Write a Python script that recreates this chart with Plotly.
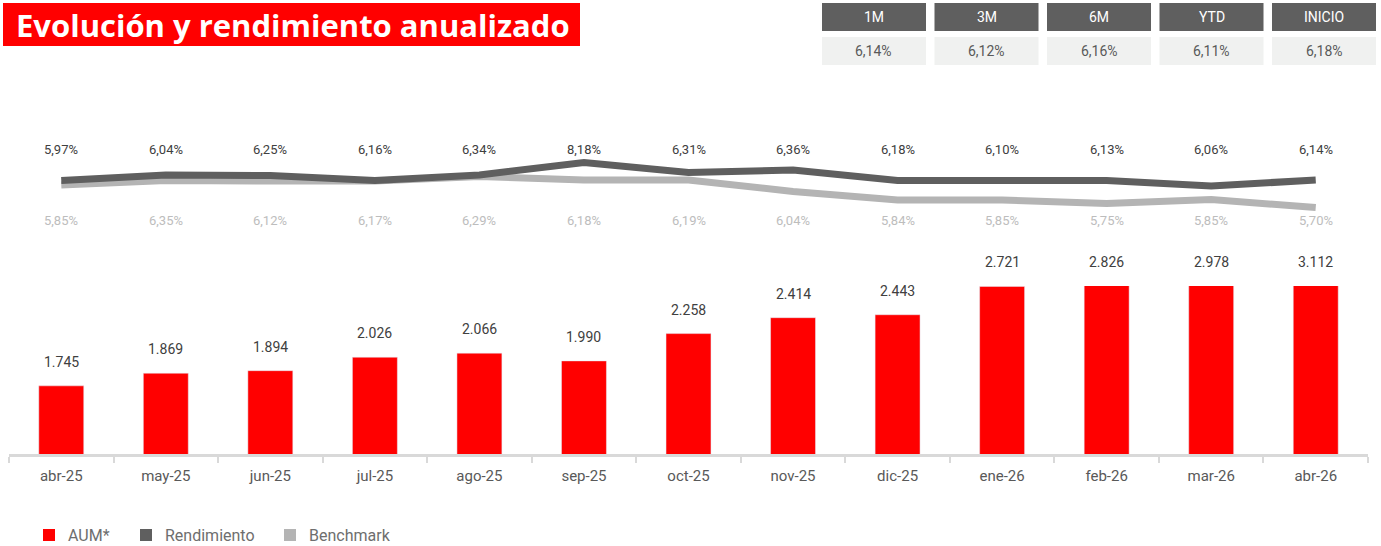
import plotly.graph_objects as go

# ---------------- data ----------------
months = ["abr-25", "may-25", "jun-25", "jul-25", "ago-25", "sep-25", "oct-25",
          "nov-25", "dic-25", "ene-26", "feb-26", "mar-26", "abr-26"]
aum = [1745, 1869, 1894, 2026, 2066, 1990, 2258, 2414, 2443, 2721, 2826, 2978, 3112]
rend_labels = [5.97, 6.04, 6.25, 6.16, 6.34, 8.18, 6.31, 6.36, 6.18, 6.10, 6.13, 6.06, 6.14]
bench_labels = [5.85, 6.35, 6.12, 6.17, 6.29, 6.18, 6.19, 6.04, 5.84, 5.85, 5.75, 5.85, 5.70]
# line heights as drawn in the picture
rend_line = [6.17, 6.28, 6.27, 6.17, 6.28, 6.53, 6.33, 6.38, 6.17, 6.17, 6.17, 6.06, 6.18]
bench_line = [6.08, 6.17, 6.16, 6.16, 6.25, 6.18, 6.18, 5.95, 5.78, 5.78, 5.71, 5.79, 5.63]
periods = ["1M", "3M", "6M", "YTD", "INICIO"]
period_values = [6.14, 6.12, 6.16, 6.11, 6.18]

# ---------------- styles ----------------
RED = "#ff0000"
DARK = "#5f5f5f"
LIGHT = "#b4b4b4"
FONT = "Roboto"
W, H = 1381, 546
ML, MR, MT, MB = 9, 13, 100, 92
PW, PH = W - ML - MR, H - MT - MB
BAR_MIN, BAR_MAX = 1076, 2725


def px(x):
    return (x - ML) / PW


def py(y):
    return (H - MB - y) / PH


def pct(v):
    return f"{v:.2f}".replace(".", ",") + "%"


def thousands(v):
    return f"{v:,}".replace(",", ".")


fig = go.Figure()
fig.add_trace(go.Bar(x=months, y=aum, marker_color=RED, width=0.43,
                     name="AUM*", showlegend=False, hoverinfo="x+y"))
fig.add_trace(go.Scatter(x=months, y=bench_line, yaxis="y2", mode="lines",
                         line=dict(color=LIGHT, width=7), name="Benchmark",
                         showlegend=False))
fig.add_trace(go.Scatter(x=months, y=rend_line, yaxis="y2", mode="lines",
                         line=dict(color=DARK, width=7), name="Rendimiento",
                         showlegend=False))

annotations = []
shapes = []


def ann(**kw):
    d = dict(showarrow=False, xanchor="center", yanchor="middle")
    d.update(kw)
    annotations.append(d)


# bar labels
for m, v in zip(months, aum):
    ann(x=m, y=min(v, BAR_MAX), xref="x", yref="y", text=thousands(v), yshift=24,
        font=dict(family=FONT, size=14, color="#404040"))
# line labels
for m, r, b in zip(months, rend_labels, bench_labels):
    ann(x=m, y=py(149), xref="x", yref="paper", text=pct(r),
        font=dict(family=FONT, size=13, color="#404040"))
    ann(x=m, y=py(220), xref="x", yref="paper", text=pct(b),
        font=dict(family=FONT, size=13, color="#bdbdbd"))

# title
shapes.append(dict(type="rect", xref="paper", yref="paper", x0=px(3), x1=px(580),
                   y0=py(46), y1=py(3), fillcolor=RED, line=dict(width=0), layer="below"))
ann(x=px(14), y=py(24.5), xref="paper", yref="paper", xanchor="left",
    text="Evolución y rendimiento anualizado",
    font=dict(family="Open Sans", size=31, color="white", weight="bold"))

# period table
for i, (p, v) in enumerate(zip(periods, period_values)):
    x0 = 822 + i * 112.5
    x1 = x0 + 104
    shapes.append(dict(type="rect", xref="paper", yref="paper", x0=px(x0), x1=px(x1),
                       y0=py(31), y1=py(3), fillcolor=DARK, line=dict(width=0)))
    shapes.append(dict(type="rect", xref="paper", yref="paper", x0=px(x0), x1=px(x1),
                       y0=py(65), y1=py(37), fillcolor="#f0f1f0", line=dict(width=0)))
    ann(x=px((x0 + x1) / 2), y=py(17), xref="paper", yref="paper", text=p,
        font=dict(family=FONT, size=14, color="white"))
    ann(x=px((x0 + x1) / 2), y=py(51), xref="paper", yref="paper", text=pct(v),
        font=dict(family=FONT, size=14, color="#595959"))

# legend (manual)
for lx, col, label in [(43, RED, "AUM*"), (140, DARK, "Rendimiento"), (284, LIGHT, "Benchmark")]:
    shapes.append(dict(type="rect", xref="paper", yref="paper", x0=px(lx), x1=px(lx + 12),
                       y0=py(541), y1=py(529), fillcolor=col, line=dict(width=0)))
    ann(x=px(lx + 23), y=py(535), xref="paper", yref="paper", xanchor="left",
        text=label, font=dict(family=FONT, size=16, color="#6e6e6e"))

fig.update_layout(
    width=W, height=H, autosize=False,
    margin=dict(l=ML, r=MR, t=MT, b=MB),
    paper_bgcolor="white", plot_bgcolor="white",
    showlegend=False, bargap=0.57,
    font=dict(family=FONT),
    xaxis=dict(type="category", range=[-0.5, 12.5], showline=True, linecolor="#d9d9d9",
               linewidth=3, ticks="outside", tickson="boundaries", ticklen=6,
               tickwidth=2, tickcolor="#d9d9d9", showgrid=False, zeroline=False,
               ticklabelstandoff=6,
               tickfont=dict(family=FONT, size=15, color="#595959")),
    yaxis=dict(domain=[0, py(286)], range=[BAR_MIN, BAR_MAX], visible=False,
               showgrid=False, zeroline=False),
    yaxis2=dict(domain=[py(214), py(154)], range=[5.5, 6.7], anchor="x",
                visible=False, showgrid=False, zeroline=False),
    annotations=annotations, shapes=shapes,
)

fig.write_html("out.html")
